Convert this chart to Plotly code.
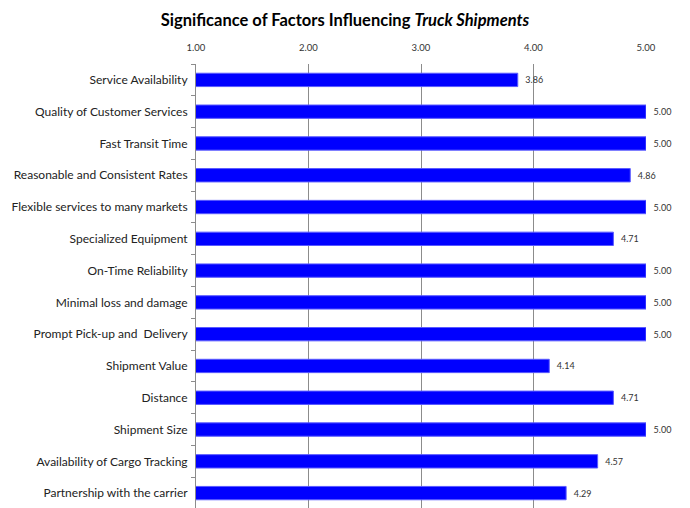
import plotly.graph_objects as go

categories = [
    "Service Availability",
    "Quality of Customer Services",
    "Fast Transit Time",
    "Reasonable and Consistent Rates",
    "Flexible services to many markets",
    "Specialized Equipment",
    "On-Time Reliability",
    "Minimal loss and damage",
    "Prompt Pick-up and  Delivery",
    "Shipment Value",
    "Distance",
    "Shipment Size",
    "Availability of Cargo Tracking",
    "Partnership with the carrier",
]
values = [3.86, 5.00, 5.00, 4.86, 5.00, 4.71, 5.00, 5.00, 5.00, 4.14, 4.71, 5.00, 4.57, 4.29]
tick_vals = [1, 2, 3, 4, 5]
tick_text = ["1.00", "2.00", "3.00", "4.00", "5.00"]

font_family = "Lato, 'Open Sans', sans-serif"

fig = go.Figure(
    go.Bar(
        x=values,
        y=categories,
        orientation="h",
        marker=dict(color="#0000FF", line=dict(color="#5a5aff", width=1)),
        text=[f"  {v:.2f}" for v in values],
        textposition="outside",
        textfont=dict(size=9, color="#333333", family=font_family),
        cliponaxis=False,
    )
)

fig.update_layout(
    width=690,
    height=508,
    margin=dict(l=188, r=52, t=56, b=7, autoexpand=False),
    paper_bgcolor="white",
    plot_bgcolor="white",
    bargap=0.58,
    showlegend=False,
    title=dict(
        text="<b>Significance of Factors Influencing <i>Truck Shipments</i></b>",
        x=337 / 690,
        xref="container",
        xanchor="center",
        y=1 - 6 / 508,
        yanchor="top",
        font=dict(size=16.5, color="black", family=font_family),
    ),
    font=dict(family=font_family, color="#222222"),
)

fig.update_xaxes(
    side="top",
    range=[1, 5],
    tickvals=tick_vals,
    ticktext=tick_text,
    tickfont=dict(size=9.5, color="#333333"),
    ticklabelstandoff=10,
    showgrid=True,
    gridcolor="#8c8c8c",
    gridwidth=1,
    zeroline=False,
    showline=False,
    ticks="",
)

fig.update_yaxes(
    autorange="reversed",
    showline=True,
    linecolor="#8c8c8c",
    linewidth=1,
    ticks="outside",
    tickson="boundaries",
    ticklen=4,
    tickcolor="#8c8c8c",
    tickfont=dict(size=12, color="#222222"),
    ticklabelstandoff=5,
    showgrid=False,
)

fig.write_html("out.html")
